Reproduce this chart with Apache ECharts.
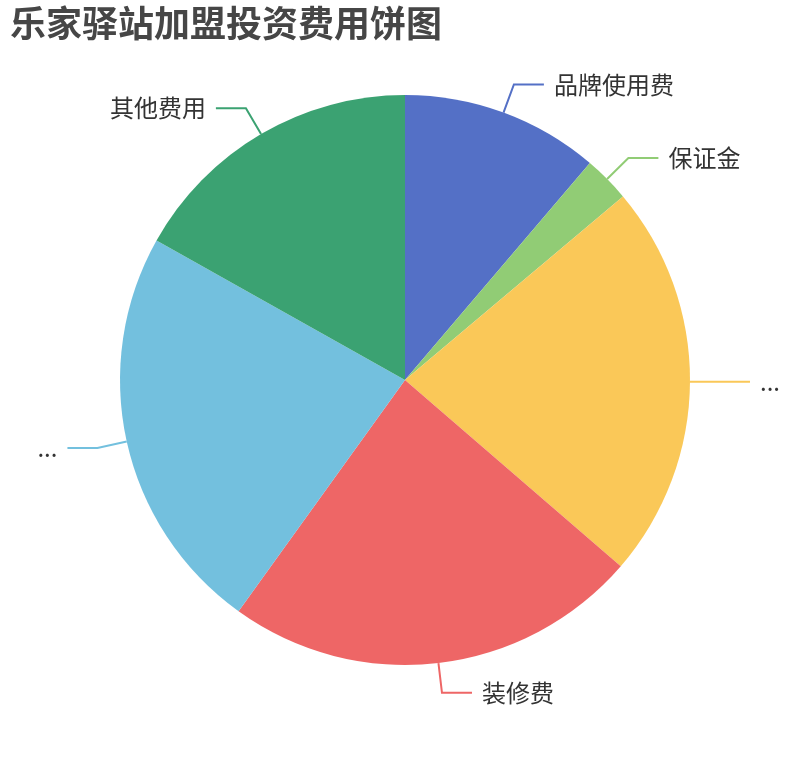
<!DOCTYPE html>
<html>
<head>
<meta charset="utf-8">
<title>乐家驿站加盟投资费用饼图</title>
<script src="https://cdn.jsdelivr.net/npm/echarts@6/dist/echarts.min.js"></script>
<style>
  html, body { margin: 0; padding: 0; background: #fff; }
  #main { width: 810px; height: 760px; }
</style>
</head>
<body>
<div id="main"></div>
<script>
  // 费用名称
  var names = ['品牌使用费', '保证金', '首批货品及设备采购费', '装修费', '店面租金及转让费用', '其他费用'];
  // 费用金额（万元，按图估读）
  var values = [3, 0.7, 6, 6.3, 6.2, 4.5];
  // 扇区颜色
  var colors = ['#5470c6', '#91cc75', '#fac858', '#ee6666', '#73c0de', '#3ba272'];

  var chart = echarts.init(document.getElementById('main'));

  var pieData = names.map(function(n, i) {
    return { name: n, value: values[i] };
  });

  var option = {
    color: colors,
    title: {
      text: '乐家驿站加盟投资费用饼图',
      left: 5,
      top: 0,
      textStyle: {
        fontSize: 36,
        fontWeight: 'bold',
        color: '#464646',
        fontFamily: 'Noto Sans CJK SC'
      }
    },
    series: [{
      name: '投资费用',
      type: 'pie',
      radius: '75%',
      center: ['50%', '50%'],
      data: pieData,
      label: {
        fontSize: 24,
        color: '#333',
        fontFamily: 'Noto Sans CJK SC',
        distanceToLabelLine: 10,
        bleedMargin: 20
      },
      labelLine: {
        length: 30,
        length2: 30,
        lineStyle: { width: 2 }
      }
    }]
  };
  chart.setOption(option);
</script>
</body>
</html>
